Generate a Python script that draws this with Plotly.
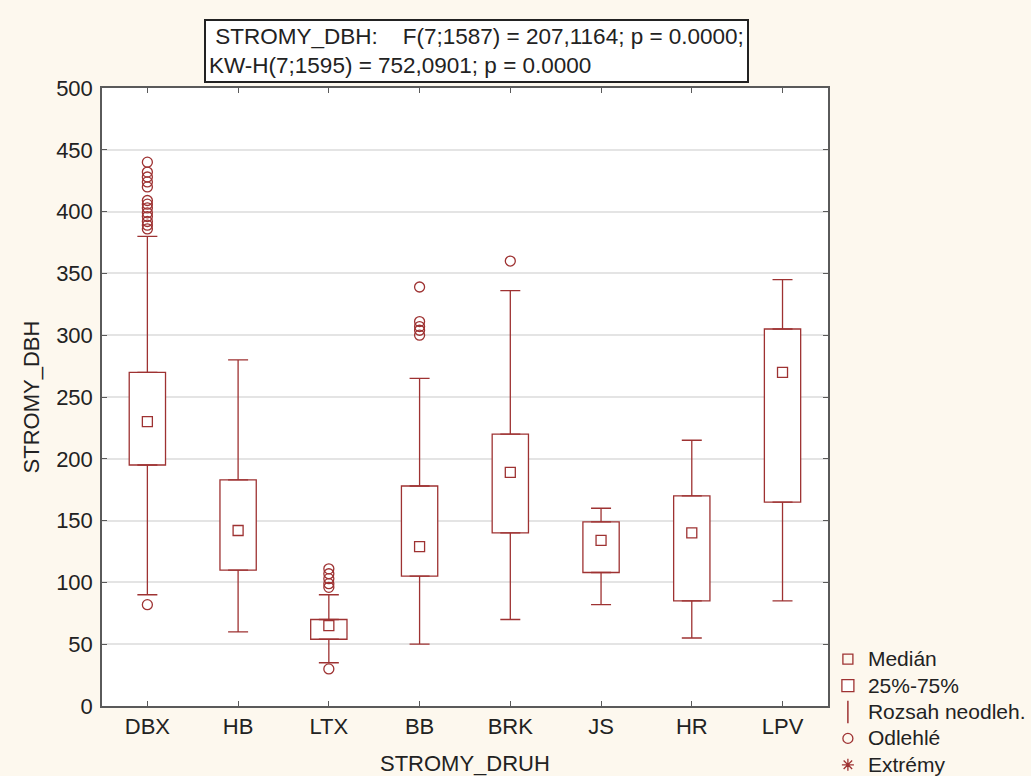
import plotly.graph_objects as go

categories = ["DBX", "HB", "LTX", "BB", "BRK", "JS", "HR", "LPV"]
medians = [230, 142, 65, 129, 189, 134, 140, 270]
q1 = [195, 110, 54, 105, 140, 108, 85, 165]
q3 = [270, 183, 70, 178, 220, 149, 170, 305]
whisk_lo = [90, 60, 35, 50, 70, 82, 55, 85]
whisk_hi = [380, 280, 90, 265, 336, 160, 215, 345]
outliers = {
    "DBX": [82, 386, 389, 392, 396, 399, 403, 406, 409, 420, 424, 428, 432, 440],
    "LTX": [30, 96, 99, 103, 107, 111],
    "BB": [300, 304, 307, 311, 339],
    "BRK": [360],
}
y_ticks = list(range(0, 501, 50))

RED = "#9e3232"
AXIS = "#5a5a5a"
BG = "#fdf8ee"
TXT = "#222222"
FONT = "Liberation Sans, Arial, sans-serif"


def big(s):
    return '<span style="font-size:21px">' + s + "</span>"


fig = go.Figure()

# boxes 25%-75%
fig.add_trace(go.Bar(
    x=categories, y=[b - a for a, b in zip(q1, q3)], base=q1, width=0.4,
    marker=dict(color="white", line=dict(color=RED, width=1.3)),
    name=big("25%-75%"), legendrank=2, hoverinfo="skip",
))

# whiskers
wx = categories + categories
wy = q3 + q1
plus = [h - b for h, b in zip(whisk_hi, q3)] + [0] * len(categories)
minus = [0] * len(categories) + [a - l for a, l in zip(q1, whisk_lo)]
fig.add_trace(go.Scatter(
    x=wx, y=wy, mode="markers", marker=dict(size=0, opacity=0, color=RED),
    error_y=dict(type="data", symmetric=False, array=plus, arrayminus=minus,
                 color=RED, thickness=1.3, width=10),
    showlegend=False, hoverinfo="skip",
))

# medians
fig.add_trace(go.Scatter(
    x=categories, y=medians, mode="markers",
    marker=dict(symbol="square-open", size=10, color=RED, line=dict(width=1.3)),
    name=big("Medián"), legendrank=1,
))

# outliers
ox, oy = [], []
for c, vals in outliers.items():
    ox += [c] * len(vals)
    oy += vals
fig.add_trace(go.Scatter(
    x=ox, y=oy, mode="markers",
    marker=dict(symbol="circle-open", size=10, color=RED, line=dict(width=1.3)),
    name=big("Odlehlé"), legendrank=4,
))

# legend-only entries
fig.add_trace(go.Scatter(
    x=[None], y=[None], mode="markers",
    marker=dict(symbol="line-ns-open", size=16, color=RED, line=dict(width=1.5, color=RED)),
    name=big("Rozsah neodleh."), legendrank=3,
))
fig.add_trace(go.Scatter(
    x=[None], y=[None], mode="markers",
    marker=dict(symbol="asterisk-open", size=10, color=RED, line=dict(width=1.3, color=RED)),
    name=big("Extrémy"), legendrank=5,
))

fig.update_layout(
    width=1031, height=776,
    margin=dict(l=102, r=200, t=88, b=70),
    paper_bgcolor=BG, plot_bgcolor="white",
    font=dict(family=FONT, size=22, color=TXT),
    showlegend=True,
    legend=dict(xref="container", yref="container", x=0.803, xanchor="left",
                y=0.174, yanchor="top",
                bgcolor="rgba(0,0,0,0)", font=dict(size=18, color=TXT),
                tracegroupgap=0, itemwidth=30),
    xaxis=dict(
        type="category", range=[-0.5, 7.5], categoryorder="array", categoryarray=categories,
        showline=True, linecolor=AXIS, linewidth=1.5, mirror="ticks",
        ticks="inside", ticklen=5, tickcolor=AXIS, showgrid=False,
        tickfont=dict(size=22), automargin=False,
        title=dict(text="STROMY_DRUH", font=dict(size=22), standoff=22),
    ),
    yaxis=dict(
        range=[0, 500], tickvals=y_ticks,
        showline=True, linecolor=AXIS, linewidth=1.5, mirror="ticks",
        ticks="inside", ticklen=5, tickcolor=AXIS, ticklabelstandoff=3,
        showgrid=True, gridcolor="#e4e4e4", gridwidth=1.5, zeroline=False,
        tickfont=dict(size=22), automargin=False,
        title=dict(text="STROMY_DBH", font=dict(size=22), standoff=10),
    ),
    annotations=[dict(
        xref="paper", yref="paper", x=0.141, y=1.008, xanchor="left", yanchor="bottom",
        text=" STROMY_DBH:    F(7;1587) = 207,1164; p = 0.0000;<br>KW-H(7;1595) = 752,0901; p = 0.0000",
        showarrow=False, align="left", font=dict(size=22.5, color=TXT),
        bgcolor="white", bordercolor="#222222", borderwidth=2, borderpad=3,
    )],
)

fig.write_html("out.html")
